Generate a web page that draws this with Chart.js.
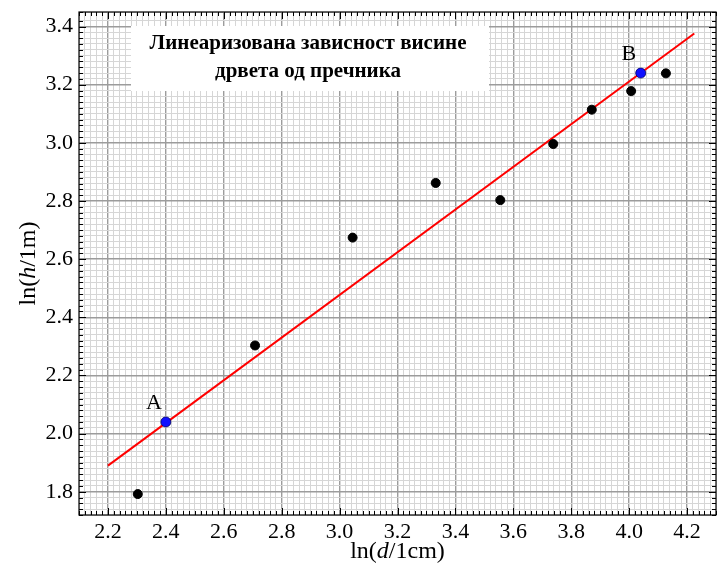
<!DOCTYPE html>
<html>
<head>
<meta charset="utf-8">
<script src="https://cdn.jsdelivr.net/npm/chart.js@4.4.1/dist/chart.umd.min.js"></script>
<style>
  html, body { margin: 0; padding: 0; background: #fff; overflow: hidden; }
  canvas { display: block; }
</style>
</head>
<body>
<canvas id="chart" width="717" height="570"></canvas>
<script>
// measured points: ln(d/1cm), ln(h/1m)
const lnD = [2.303, 2.708, 3.045, 3.332, 3.555, 3.738, 3.871, 4.007, 4.127];
const lnH = [1.792, 2.303, 2.674, 2.862, 2.803, 2.996, 3.114, 3.178, 3.239];

// points A and B taken on the fit line
const refNames = ['A', 'B'];
const refX = [2.40, 4.04];
const refY = [2.04, 3.24];

// fitted line end points
const fitX = [2.20, 4.225];
const fitY = [1.890, 3.376];

const titleLines = ['Линеаризована зависност висине', 'дрвета од пречника'];
const xTitle = ['ln(', 'd', '/1cm)'];
const yTitle = ['ln(', 'h', '/1m)'];

const SERIF = "'Liberation Serif', 'Times New Roman', serif";
const isMajor = v => Math.abs(v / 0.2 - Math.round(v / 0.2)) < 1e-6;

// mixed roman / italic text, centred on 0,0
function mixedText(ctx, parts, size) {
    const fonts = parts.map((p, i) => (i === 1 ? 'italic ' : '') + size + 'px ' + SERIF);
    let w = 0;
    const ws = parts.map((p, i) => { ctx.font = fonts[i]; const m = ctx.measureText(p).width; w += m; return m; });
    let x = -w / 2;
    ctx.textBaseline = 'middle';
    ctx.textAlign = 'left';
    parts.forEach((p, i) => { ctx.font = fonts[i]; ctx.fillText(p, x, 0); x += ws[i]; });
}

const decor = {
    id: 'decor',
    afterDraw(chart) {
        const ctx = chart.ctx, a = chart.chartArea;
        const sx = chart.scales.x, sy = chart.scales.y;
        ctx.save();

        // title box
        ctx.fillStyle = '#fff';
        ctx.fillRect(131, 26, 358, 65);
        ctx.fillStyle = '#000';
        ctx.font = 'bold 21px ' + SERIF;
        ctx.textAlign = 'center';
        ctx.textBaseline = 'middle';
        ctx.fillText(titleLines[0], 308, 44);
        ctx.fillText(titleLines[1], 308, 72);

        // A / B labels
        ctx.font = '22px ' + SERIF;
        refNames.forEach((n, i) => {
            ctx.fillText(n, sx.getPixelForValue(refX[i]) - 12, sy.getPixelForValue(refY[i]) - 19);
        });

        // frame
        ctx.strokeStyle = '#000';
        ctx.lineWidth = 1.2;
        ctx.strokeRect(a.left, a.top, a.right - a.left, a.bottom - a.top);

        // inward ticks on all four sides
        ctx.lineWidth = 1;
        ctx.beginPath();
        sx.ticks.forEach(t => {
            const p = Math.round(sx.getPixelForValue(t.value)) + 0.5;
            const L = isMajor(t.value) ? 7 : 4;
            ctx.moveTo(p, a.bottom); ctx.lineTo(p, a.bottom - L);
            ctx.moveTo(p, a.top); ctx.lineTo(p, a.top + L);
        });
        sy.ticks.forEach(t => {
            const p = Math.round(sy.getPixelForValue(t.value)) + 0.5;
            const L = isMajor(t.value) ? 7 : 4;
            ctx.moveTo(a.left, p); ctx.lineTo(a.left + L, p);
            ctx.moveTo(a.right, p); ctx.lineTo(a.right - L, p);
        });
        ctx.stroke();

        // axis titles
        ctx.fillStyle = '#000';
        ctx.save();
        ctx.translate((a.left + a.right) / 2, 552);
        mixedText(ctx, xTitle, 24);
        ctx.restore();
        ctx.save();
        ctx.translate(29, (a.top + a.bottom) / 2);
        ctx.rotate(-Math.PI / 2);
        mixedText(ctx, yTitle, 24);
        ctx.restore();

        ctx.restore();
    }
};

// drop the label overhang padding so the plot frame sits where we want it
const noPad = s => { s.paddingLeft = 0; s.paddingRight = 0; s.paddingTop = 0; s.paddingBottom = 0; };

const axisCommon = {
    type: 'linear',
    border: { display: false },
    grid: {
        drawTicks: false,
        color: c => isMajor(c.tick.value) ? '#9c9c9c' : '#d6d6d6',
        lineWidth: c => isMajor(c.tick.value) ? 1.4 : 1
    },
    ticks: {
        stepSize: 0.02,
        maxTicksLimit: 1000,
        autoSkip: false,
        maxRotation: 0,
        color: '#000',
        font: { family: SERIF, size: 22 },
        callback: v => isMajor(v) ? v.toFixed(1) : ''
    }
};

new Chart(document.getElementById('chart'), {
    type: 'scatter',
    data: {
        datasets: [
            {
                label: 'A, B',
                data: refX.map((x, i) => ({ x, y: refY[i] })),
                backgroundColor: '#1010ff',
                borderColor: '#000060',
                borderWidth: 0.8,
                pointRadius: 5
            },
            {
                label: 'мерења',
                data: lnD.map((x, i) => ({ x, y: lnH[i] })),
                backgroundColor: '#000',
                borderColor: '#000',
                pointRadius: 4.5
            },
            {
                type: 'line',
                label: 'фит',
                data: fitX.map((x, i) => ({ x, y: fitY[i] })),
                borderColor: '#ff0000',
                borderWidth: 2,
                pointRadius: 0,
                fill: false
            }
        ]
    },
    options: {
        responsive: false,
        animation: false,
        layout: { autoPadding: false, padding: { top: 12, right: 1, left: 0, bottom: 0 } },
        plugins: { legend: { display: false }, tooltip: { enabled: false } },
        scales: {
            x: Object.assign({}, axisCommon, {
                min: 2.1, max: 4.3,
                ticks: Object.assign({}, axisCommon.ticks, { padding: 4 }),
                afterFit: s => { s.height = 55; noPad(s); }
            }),
            y: Object.assign({}, axisCommon, {
                min: 1.72, max: 3.45,
                ticks: Object.assign({}, axisCommon.ticks, { padding: 6 }),
                afterFit: s => { s.width = 79; noPad(s); }
            })
        }
    },
    plugins: [decor]
});
</script>
</body>
</html>
